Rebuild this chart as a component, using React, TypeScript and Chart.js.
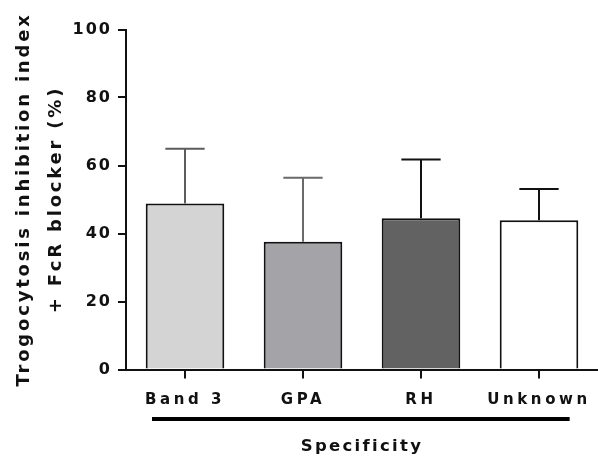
import React, { useEffect, useRef } from 'react';
import { Chart, registerables } from 'chart.js';

Chart.register(...registerables);

const categories = ['Band 3', 'GPA', 'RH', 'Unknown'];
const means = [48.8, 37.6, 44.5, 43.9];
const errors = [16.1, 18.8, 17.3, 9.2];
const barColors = ['#d4d4d4', '#a4a4a8', '#626262', '#ffffff'];
const errorColors = ['#5c5c5c', '#6a6a6a', '#111111', '#111111'];
const yTitleLines = ['Trogocytosis inhibition index', '+ FcR blocker (%)'];
const xTitle = 'Specificity';

const FAMILY = '"DejaVu Sans", Verdana, sans-serif';
const INK = '#111111';

const TICK_SIZE = 16;
const XLABEL_SIZE = 15;
const XTITLE_SIZE = 16.5;
const YTITLE_SIZE = 18;

// letter spacing (px) per font size used
const spacingFor = (font: string): string => {
  const m = /(\d+(?:\.\d+)?)px/.exec(font);
  const size = m ? parseFloat(m[1]) : 0;
  if (size === TICK_SIZE) return '2px';
  if (size === XLABEL_SIZE) return '3.6px';
  if (size === XTITLE_SIZE) return '2.3px';
  if (size === YTITLE_SIZE) return '2.8px';
  return '0px';
};

const errorBarPlugin = {
  id: 'errorBarsAndGroupLine',
  beforeDraw(chart: any) {
    const ctx = chart.ctx;
    if (!ctx.__spacingPatched) {
      const orig = ctx.fillText;
      ctx.fillText = function (text: string, x: number, y: number, maxWidth?: number) {
        this.letterSpacing = spacingFor(this.font);
        if (maxWidth === undefined) return orig.call(this, text, x, y);
        return orig.call(this, text, x, y, maxWidth);
      };
      ctx.__spacingPatched = true;
    }
  },
  afterDatasetsDraw(chart: any) {
    const ctx = chart.ctx;
    const yScale = chart.scales.y;
    const xScale = chart.scales.x;
    const meta = chart.getDatasetMeta(0);
    ctx.save();
    ctx.lineWidth = 2;
    meta.data.forEach((bar: any, i: number) => {
      const x = bar.x;
      const base = yScale.getPixelForValue(means[i]);
      const top = yScale.getPixelForValue(means[i] + errors[i]);
      const half = bar.width / 4;
      ctx.strokeStyle = errorColors[i];
      ctx.beginPath();
      ctx.moveTo(x, base);
      ctx.lineTo(x, top);
      ctx.moveTo(x - half, top);
      ctx.lineTo(x + half, top);
      ctx.stroke();
    });
    // group bracket line under the category labels
    const first = meta.data[0];
    const last = meta.data[meta.data.length - 1];
    const lineY = xScale.top + 49.5;
    ctx.strokeStyle = '#000';
    ctx.lineWidth = 4;
    ctx.beginPath();
    ctx.moveTo(first.x - first.width * 0.42, lineY);
    ctx.lineTo(last.x + last.width * 0.39, lineY);
    ctx.stroke();
    ctx.restore();
  },
};

export default function App() {
  const canvasRef = useRef<HTMLCanvasElement | null>(null);

  useEffect(() => {
    if (!canvasRef.current) return;
    const chart = new Chart(canvasRef.current, {
      type: 'bar',
      data: {
        labels: categories,
        datasets: [
          {
            data: means,
            backgroundColor: barColors,
            borderColor: INK,
            borderWidth: 2,
            borderSkipped: 'start',
            barPercentage: 0.666,
            categoryPercentage: 1,
          },
        ],
      },
      options: {
        responsive: false,
        animation: false,
        devicePixelRatio: 1,
        layout: { padding: { top: 29.5, left: 0, right: 0, bottom: 0 } },
        plugins: {
          legend: { display: false },
          tooltip: { enabled: false },
          title: { display: false },
        },
        scales: {
          x: {
            offset: true,
            ticks: {
              color: INK,
              padding: 13,
              font: { size: XLABEL_SIZE, weight: 'bold', family: FAMILY },
            },
            grid: {
              display: true,
              offset: false,
              drawOnChartArea: false,
              drawTicks: true,
              tickLength: 9,
              tickWidth: 2,
              tickColor: INK,
              color: INK,
              lineWidth: 2,
            },
            border: { display: true, color: INK, width: 2 },
            title: {
              display: true,
              text: xTitle,
              color: INK,
              font: { size: XTITLE_SIZE, weight: 'bold', family: FAMILY },
              padding: { top: 0, bottom: 10 },
            },
            afterFit: (s: any) => {
              s.height = 97.5;
            },
          },
          y: {
            min: 0,
            max: 100,
            ticks: {
              stepSize: 20,
              color: INK,
              padding: 6,
              font: { size: TICK_SIZE, weight: 'bold', family: FAMILY },
            },
            grid: {
              display: true,
              drawOnChartArea: false,
              drawTicks: true,
              tickLength: 8,
              tickWidth: 2,
              tickColor: INK,
              color: INK,
              lineWidth: 2,
            },
            border: { display: true, color: INK, width: 2 },
            title: {
              display: true,
              text: yTitleLines,
              color: INK,
              font: { size: YTITLE_SIZE, weight: 'bold', family: FAMILY, lineHeight: 1.8 },
              padding: { top: 8, bottom: 0 },
            },
            afterFit: (s: any) => {
              s.width = 126;
            },
          },
        },
      },
      plugins: [errorBarPlugin],
    } as any);
    return () => chart.destroy();
  }, []);

  return (
    <div style={{ position: 'absolute', left: 0, top: 0, width: 598, height: 467, background: '#fff' }}>
      <canvas ref={canvasRef} width={598} height={467} style={{ display: 'block' }} />
    </div>
  );
}
